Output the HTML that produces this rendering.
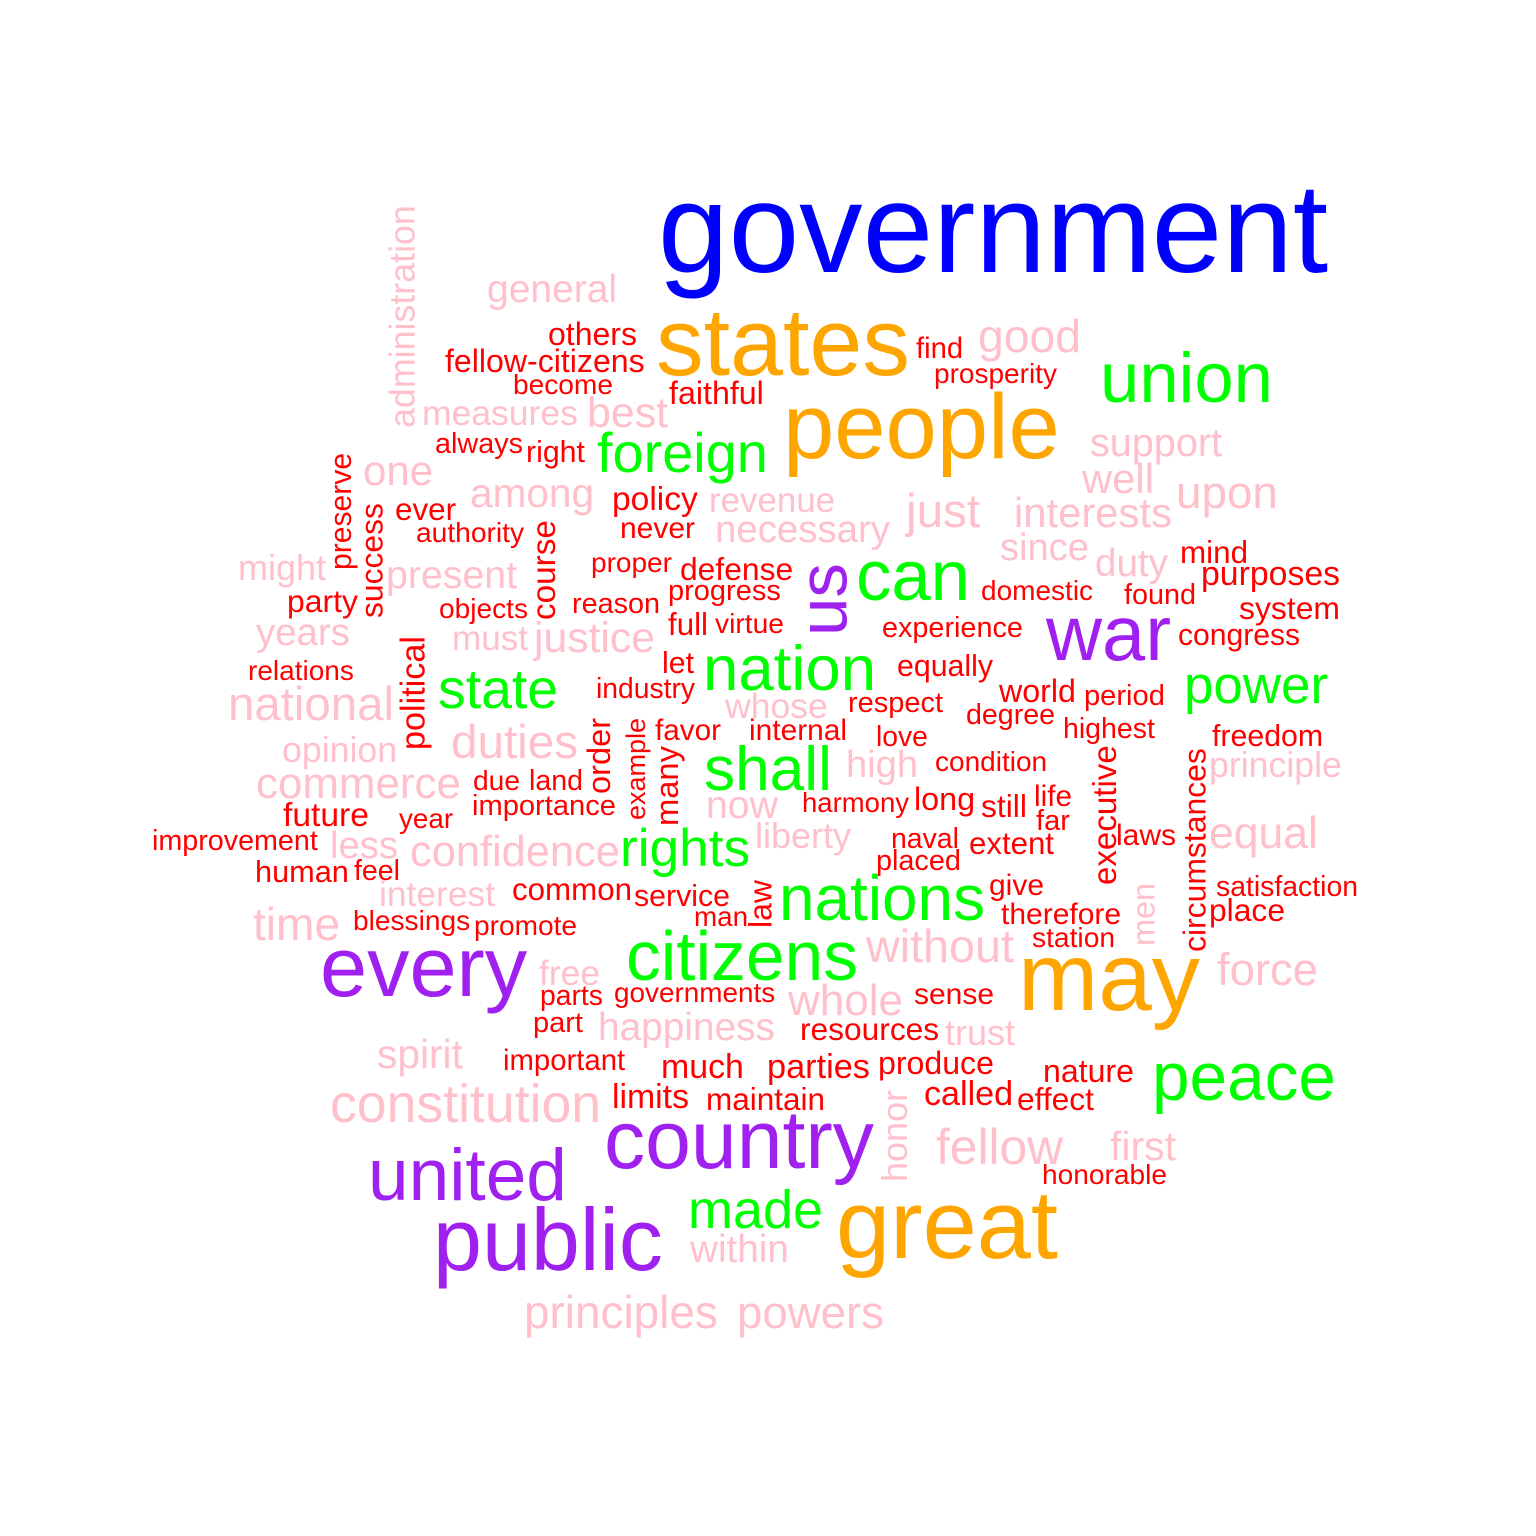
<!DOCTYPE html>
<html><head><meta charset="utf-8">
<style>html,body{margin:0;padding:0;background:#fff;}svg{display:block;}text{font-family:"Liberation Sans",Arial,sans-serif;}</style>
</head><body>
<svg id="cloud" width="1536" height="1536" viewBox="0 0 1536 1536" xmlns="http://www.w3.org/2000/svg">
<rect width="1536" height="1536" fill="#fff"/>
</svg>
<script>
const palette = {b:"#0000FF",o:"#FFA500",g:"#00FF00",p:"#A020F0",k:"#FFC0CB",r:"#FF0000"};
// word + color group pairs
const wordColors = [["government","b"],["states","o"],["people","o"],["union","g"],["general","k"],["good","k"],["others","r"],["fellow-citizens","r"],["find","r"],["become","r"],["prosperity","r"],["faithful","r"],["measures","k"],["best","k"],["always","r"],["right","r"],["foreign","g"],["support","k"],["one","k"],["among","k"],["policy","r"],["revenue","k"],["well","k"],["upon","k"],["ever","r"],["just","k"],["interests","k"],["authority","r"],["never","r"],["necessary","k"],["since","k"],["mind","r"],["might","k"],["present","k"],["proper","r"],["defense","r"],["can","g"],["duty","k"],["purposes","r"],["domestic","r"],["found","r"],["party","r"],["objects","r"],["reason","r"],["progress","r"],["system","r"],["years","k"],["must","k"],["justice","k"],["full","r"],["virtue","r"],["experience","r"],["war","p"],["congress","r"],["relations","r"],["let","r"],["nation","g"],["equally","r"],["state","g"],["national","k"],["industry","r"],["world","r"],["period","r"],["power","g"],["respect","r"],["whose","k"],["degree","r"],["duties","k"],["favor","r"],["internal","r"],["highest","r"],["opinion","k"],["love","r"],["freedom","r"],["shall","g"],["high","k"],["condition","r"],["principle","k"],["commerce","k"],["due","r"],["land","r"],["importance","r"],["harmony","r"],["long","r"],["still","r"],["life","r"],["now","k"],["future","r"],["year","r"],["far","r"],["liberty","k"],["laws","r"],["equal","k"],["improvement","r"],["less","k"],["confidence","k"],["rights","g"],["naval","r"],["extent","r"],["placed","r"],["human","r"],["feel","r"],["interest","k"],["common","r"],["service","r"],["give","r"],["satisfaction","r"],["nations","g"],["therefore","r"],["place","r"],["time","k"],["blessings","r"],["promote","r"],["man","r"],["station","r"],["without","k"],["citizens","g"],["every","p"],["may","o"],["free","k"],["force","k"],["parts","r"],["governments","r"],["whole","k"],["sense","r"],["part","r"],["happiness","k"],["resources","r"],["trust","k"],["spirit","k"],["important","r"],["much","r"],["parties","r"],["produce","r"],["nature","r"],["peace","g"],["constitution","k"],["limits","r"],["maintain","r"],["called","r"],["effect","r"],["country","p"],["fellow","k"],["first","k"],["honorable","r"],["united","p"],["made","g"],["great","o"],["public","p"],["within","k"],["principles","k"],["powers","k"]];
const x1s = [658,656,783,1100,487,978,548,445,916,513,934,669,422,587,435,526,597,1090,363,470,612,709,1082,1176,395,906,1014,416,620,715,1000,1180,238,386,591,680,856,1095,1201,981,1124,287,439,572,668,1239,256,452,534,668,715,882,1046,1178,248,662,703,897,438,228,596,999,1084,1184,848,725,966,451,655,749,1063,282,876,1212,704,846,935,1209,256,473,529,472,802,914,981,1034,706,283,399,1036,755,1116,1209,152,330,410,620,891,969,876,255,354,379,512,634,989,1216,779,1001,1209,253,353,474,694,1032,866,626,320,1018,539,1217,540,614,788,914,533,598,800,945,377,503,661,767,878,1043,1152,330,612,706,924,1017,604,936,1110,1042,368,688,836,433,690,524,737];
const x2s = [1328,910,1060,1273,617,1081,637,645,963,613,1057,764,578,668,523,585,768,1222,433,594,698,835,1154,1278,456,980,1172,524,695,890,1089,1248,326,517,672,793,970,1168,1340,1093,1196,358,528,660,781,1340,350,528,655,708,784,1023,1171,1300,354,694,876,993,558,394,695,1076,1165,1328,943,828,1055,578,721,847,1155,397,928,1323,832,918,1047,1342,461,520,583,616,909,975,1027,1072,778,369,453,1070,851,1176,1318,318,398,620,750,959,1054,961,349,400,495,632,730,1044,1358,985,1121,1285,340,470,577,748,1115,1014,858,527,1200,600,1318,603,775,903,994,583,775,939,1015,463,625,744,870,994,1134,1336,601,689,825,1013,1094,874,1063,1176,1167,567,823,1058,663,789,718,884];
const baselines = [272,375,458,402,302,352,345,372,358,394,383,404,425,427,453,462,472,456,485,507,510,512,493,508,520,527,527,542,538,542,560,563,580,588,572,580,600,576,585,600,604,612,618,613,600,619,645,650,652,635,633,637,660,645,680,673,690,676,708,720,698,702,705,703,712,718,724,758,740,740,738,762,746,746,790,777,771,777,798,790,790,815,812,810,817,806,818,826,828,830,848,845,848,850,858,866,866,848,854,870,882,880,906,900,906,895,896,920,924,921,940,930,935,926,947,962,980,996,1010,985,985,1005,1002,1015,1004,1032,1040,1040,1045,1068,1070,1078,1078,1074,1082,1100,1122,1108,1110,1105,1110,1168,1164,1160,1184,1200,1228,1258,1270,1262,1328,1328];
// vertical words (read bottom to top)
const vWordColors = [["administration","k"],["preserve","r"],["success","r"],["course","r"],["political","r"],["order","r"],["example","r"],["many","r"],["us","p"],["executive","r"],["circumstances","r"],["law","r"],["men","k"],["honor","k"]];
const vXs = [404,342,373,545,414,600,637,668,826,1106,1196,762,1145,896];
const vBottoms = [428,570,618,620,750,794,820,826,636,885,952,928,946,1182];
const vTops = [205,453,503,520,636,718,718,746,563,745,748,880,883,1090];

const svg = document.getElementById('cloud');
const NS = "http://www.w3.org/2000/svg";
function measure(w){
  const t = document.createElementNS(NS,'text');
  t.setAttribute('font-size','100');
  t.textContent = w;
  svg.appendChild(t);
  const L = t.getComputedTextLength();
  svg.removeChild(t);
  return L;
}
wordColors.forEach((wc,i)=>{
  const w = wc[0];
  const size = 100*(x2s[i]-x1s[i])/measure(w);
  const t = document.createElementNS(NS,'text');
  t.setAttribute('x', x1s[i]);
  t.setAttribute('y', baselines[i]);
  t.setAttribute('font-size', size.toFixed(1));
  t.setAttribute('fill', palette[wc[1]]);
  t.textContent = w;
  
  
  svg.appendChild(t);
});
vWordColors.forEach((wc,i)=>{
  const w = wc[0];
  const size = 100*(vBottoms[i]-vTops[i])/measure(w);
  const bx = vXs[i] + 0.3*size;
  const t = document.createElementNS(NS,'text');
  t.setAttribute('transform', 'translate(' + bx.toFixed(1) + ',' + vBottoms[i] + ') rotate(-90)');
  t.setAttribute('x', 0);
  t.setAttribute('y', 0);
  t.setAttribute('font-size', size.toFixed(1));
  t.setAttribute('fill', palette[wc[1]]);
  t.textContent = w;
  
  
  svg.appendChild(t);
});
</script>
</body></html>
